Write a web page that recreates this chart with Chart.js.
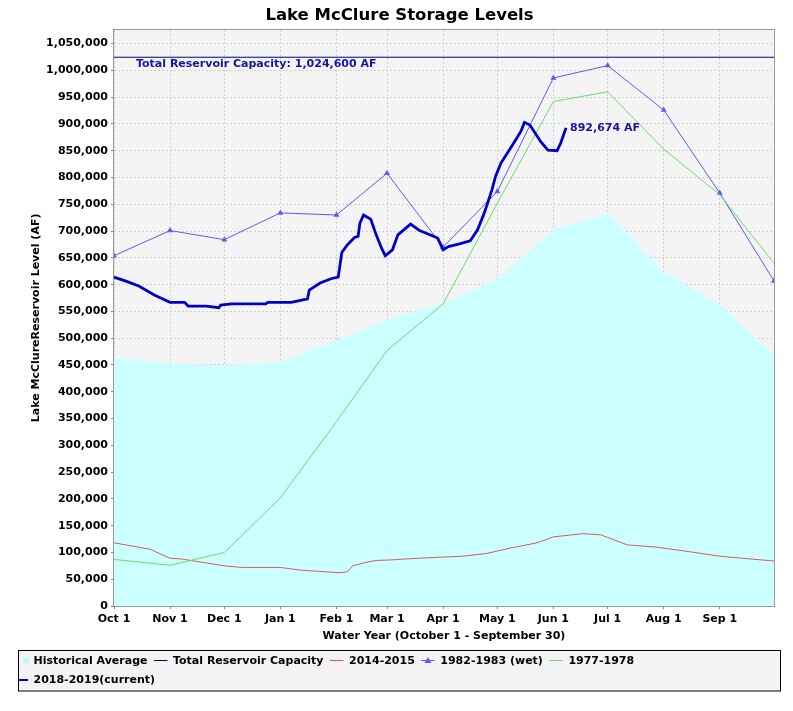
<!DOCTYPE html>
<html>
<head>
<meta charset="utf-8">
<title>Lake McClure Storage Levels</title>
<script src="https://cdn.jsdelivr.net/npm/chart.js@4.4.0/dist/chart.umd.min.js"></script>
<style>
  body { margin: 0; background: #fff; }
  canvas { display: block; }
</style>
</head>
<body>
<canvas id="chart" width="793" height="711"></canvas>
<script>
const ctx = document.getElementById("chart");

// x values are days since Oct 1 of the water year
const monthDays = [0, 31, 61, 92, 123, 151, 182, 212, 243, 273, 304, 335, 365];
const monthLabels = ["Oct 1", "Nov 1", "Dec 1", "Jan 1", "Feb 1", "Mar 1", "Apr 1", "May 1", "Jun 1", "Jul 1", "Aug 1", "Sep 1"];

// y axis tick values (acre-feet)
const yTicks = [0, 50000, 100000, 150000, 200000, 250000, 300000, 350000, 400000, 450000, 500000, 550000, 600000, 650000, 700000, 750000, 800000, 850000, 900000, 950000, 1000000, 1050000];

const capacity = 1024600;
const capacityDays = [0, 365];

const historicalAvg = [463000, 452000, 450000, 454000, 497000, 535000, 565000, 610000, 703000, 732000, 624000, 563000, 468000];
const wet1983 = [654000, 701000, 684000, 734000, 730000, 808000, 670000, 774000, 986000, 1009000, 926000, 771000, 607000];
const dry1978 = [87000, 76000, 100000, 202000, 344000, 477000, 564000, 752000, 942000, 960000, 853000, 768000, 640000];

const drought2015Days = [0, 20, 31, 37, 61, 71, 92, 103, 121, 125, 129, 132, 140, 145, 153, 162, 180, 193, 206, 219, 234, 243, 259, 269, 273, 284, 300, 319, 335, 348, 365];
const drought2015 = [118000, 106000, 89000, 88000, 75000, 72000, 72000, 67000, 63000, 62000, 64000, 75000, 82000, 85000, 86000, 88000, 91000, 93000, 98000, 108000, 118000, 129000, 135000, 133000, 128000, 114000, 110000, 101000, 93000, 89000, 84000];

const currentDays = [0, 7, 14, 22, 31, 39, 41, 51, 58, 59, 65, 84, 85, 98, 105, 107, 108, 114, 120, 124, 126, 129, 133, 135, 136, 138, 142, 145, 148, 150, 154, 157, 164, 169, 177, 179, 182, 185, 191, 197, 201, 204, 206, 209, 211, 214, 221, 225, 227, 230, 236, 240, 245, 247, 250];
const current = [614000, 606000, 597000, 581000, 567000, 567000, 560000, 560000, 557000, 562000, 564000, 564000, 567000, 567000, 572000, 573000, 590000, 603000, 611000, 614000, 660000, 674000, 688000, 690000, 715000, 730000, 722000, 693000, 668000, 654000, 665000, 693000, 713000, 701000, 690000, 687000, 665000, 671000, 676000, 682000, 702000, 727000, 746000, 777000, 802000, 827000, 864000, 886000, 903000, 898000, 867000, 851000, 850000, 864000, 892674];

const fontFamily = "'DejaVu Sans', sans-serif";
const labelBlue = "#1414a8";

function toPoints(days, values) {
  return days.map((d, i) => ({ x: d, y: values[i] }));
}

function fmt(v) {
  return v.toLocaleString("en-US");
}

// small canvases used as legend symbols
function makeIcon(draw) {
  const c = document.createElement("canvas");
  c.width = 16;
  c.height = 12;
  draw(c.getContext("2d"));
  return c;
}
const lineIcon = (color, w, x0) => makeIcon((g) => {
  g.fillStyle = color;
  g.fillRect(x0, 6 - Math.ceil(w / 2), 14 - x0, w);
});
const legendIcons = [
  makeIcon((g) => { g.fillStyle = "#bff8f8"; g.fillRect(9, 3, 6, 6); }),
  lineIcon("#000088", 1, 0),
  lineIcon("#d85a5a", 1, 0),
  makeIcon((g) => {
    g.fillStyle = "#5c5cf0";
    g.fillRect(0, 5, 14, 1);
    g.beginPath();
    g.moveTo(7, 2); g.lineTo(10.5, 8); g.lineTo(3.5, 8);
    g.closePath();
    g.fill();
  }),
  lineIcon("#66e066", 1, 0),
  lineIcon("#0000cc", 2, 5),
];

const chartDecor = {
  id: "chartDecor",
  afterLayout(chart) {
    // centre the title on the whole picture, not on the padded area
    const t = chart.titleBlock;
    if (t) {
      t.left = 0;
      t.right = chart.width + 6;
    }
  },
  beforeDraw(chart) {
    const { ctx, chartArea: a, legend } = chart;
    ctx.save();
    ctx.fillStyle = "#f4f4f4";
    ctx.fillRect(a.left, a.top, a.right - a.left, a.bottom - a.top);
    // legend frame
    const fx = legend.left + 10.5;
    const fy = legend.top + 3;
    const fw = chart.width - 12.5 - fx;
    const fh = legend.bottom - 4.5 - fy;
    ctx.fillStyle = "#f3f3f3";
    ctx.fillRect(fx, fy, fw, fh);
    ctx.strokeStyle = "#000";
    ctx.lineWidth = 1;
    ctx.strokeRect(fx, fy, fw, fh);
    ctx.restore();
  },
  afterDatasetsDraw(chart) {
    const { ctx, chartArea: a, scales } = chart;
    ctx.save();
    ctx.strokeStyle = "#999";
    ctx.lineWidth = 1;
    ctx.strokeRect(Math.round(a.left) - 0.5, Math.round(a.top) - 0.5, Math.round(a.right - a.left) + 1, Math.round(a.bottom - a.top) + 1);

    ctx.font = "bold 11px " + fontFamily;
    ctx.fillStyle = labelBlue;
    ctx.textBaseline = "middle";
    ctx.textAlign = "left";
    ctx.fillText("Total Reservoir Capacity: " + fmt(capacity) + " AF", a.left + 22, scales.y.getPixelForValue(capacity) + 7);
    const last = currentDays.length - 1;
    ctx.fillText(fmt(current[last]) + " AF", scales.x.getPixelForValue(currentDays[last]) + 4, scales.y.getPixelForValue(current[last]));
    ctx.restore();
  },
};

Chart.defaults.font.family = fontFamily;
Chart.defaults.font.size = 11;
Chart.defaults.font.weight = "bold";
Chart.defaults.color = "#000";

const chart = new Chart(ctx, {
  type: "line",
  data: {
    datasets: [
      {
        label: "Historical Average",
        data: toPoints(monthDays, historicalAvg),
        fill: "origin",
        backgroundColor: "#ccffff",
        borderColor: "rgba(0,0,0,0)",
        borderWidth: 0,
        pointRadius: 0,
        order: 10,
      },
      {
        label: "Total Reservoir Capacity",
        data: toPoints(capacityDays, [capacity, capacity]),
        borderColor: "#000088",
        borderWidth: 1,
        pointRadius: 0,
        order: 5,
      },
      {
        label: "2014-2015",
        data: toPoints(drought2015Days, drought2015),
        borderColor: "#d85a5a",
        borderWidth: 1,
        pointRadius: 0,
        order: 4,
      },
      {
        label: "1982-1983 (wet)",
        data: toPoints(monthDays, wet1983),
        borderColor: "#5c5cf0",
        borderWidth: 1,
        pointStyle: "triangle",
        pointRadius: 3.5,
        pointBackgroundColor: "#5c5cf0",
        pointBorderWidth: 0,
        order: 3,
      },
      {
        label: "1977-1978",
        data: toPoints(monthDays, dry1978),
        borderColor: "#66e066",
        borderWidth: 1,
        pointRadius: 0,
        order: 2,
      },
      {
        label: "2018-2019(current)",
        data: toPoints(currentDays, current),
        borderColor: "#0000cc",
        borderWidth: 2.8,
        pointRadius: 0,
        order: 0,
      },
    ],
  },
  options: {
    responsive: false,
    animation: false,
    devicePixelRatio: 1,
    layout: {
      padding: { left: 8, right: 19, top: 0, bottom: 15.5 },
    },
    scales: {
      x: {
        type: "linear",
        min: 0,
        max: 365,
        afterBuildTicks: (scale) => {
          scale.ticks = monthLabels.map((l, i) => ({ value: monthDays[i] }));
        },
        afterFit: (scale) => {
          scale.height = 41.5;
        },
        grid: {
          color: "#d0d0d0",
          tickColor: "#888",
          tickLength: 3,
        },
        border: { display: false, dash: [2, 2] },
        ticks: {
          autoSkip: false,
          maxRotation: 0,
          padding: 4,
          callback: (value, index) => monthLabels[index],
        },
        title: {
          display: true,
          text: "Water Year (October 1 - September 30)",
          padding: { top: 0, bottom: 5 },
        },
      },
      y: {
        min: 0,
        max: capacity * 1.05,
        afterBuildTicks: (scale) => {
          scale.ticks = yTicks.map((v) => ({ value: v }));
        },
        afterFit: (scale) => {
          scale.width = 106;
        },
        grid: {
          color: "#d0d0d0",
          tickColor: "#888",
          tickLength: 3,
        },
        border: { display: false, dash: [2, 2] },
        ticks: {
          autoSkip: false,
          padding: 3,
          callback: (value) => fmt(value),
        },
        title: {
          display: true,
          text: "Lake McClureReservoir Level (AF)",
          padding: { top: 21.5, bottom: 0 },
        },
      },
    },
    plugins: {
      title: {
        display: true,
        text: "Lake McClure Storage Levels",
        font: { size: 16.5, weight: "bold" },
        padding: { top: 6, bottom: 4 },
      },
      legend: {
        position: "bottom",
        align: "start",
        labels: {
          usePointStyle: true,
          pointStyleWidth: 12,
          boxWidth: 12,
          padding: 8,
          font: { size: 11, weight: "bold" },
          generateLabels: (chart) => chart.data.datasets.map((ds, i) => ({
            text: ds.label,
            datasetIndex: i,
            pointStyle: legendIcons[i],
            fillStyle: "rgba(0,0,0,0)",
            strokeStyle: "rgba(0,0,0,0)",
            lineWidth: 0,
            fontColor: "#000",
            hidden: false,
          })),
        },
      },
      tooltip: { enabled: false },
    },
  },
  plugins: [chartDecor],
});
</script>
</body>
</html>
